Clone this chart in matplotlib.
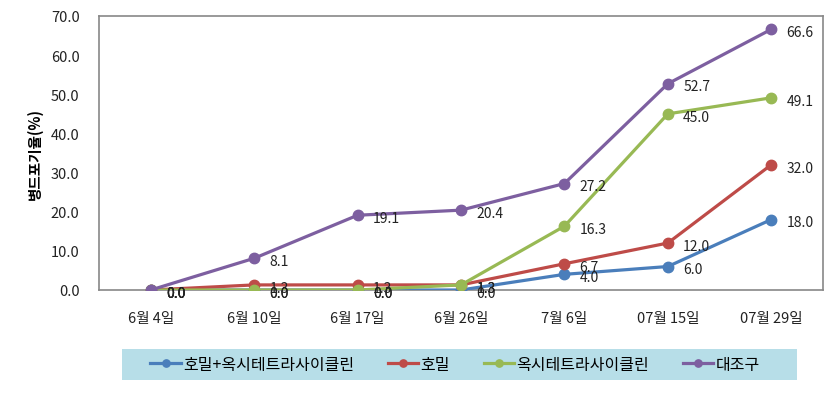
import matplotlib
matplotlib.use("Agg")
import matplotlib.pyplot as plt
from matplotlib.patches import Rectangle

plt.rcParams['font.family'] = ['Noto Sans CJK KR', 'DejaVu Sans']

categories = ["6월 4일", "6월 10일", "6월 17일", "6월 26일", "7월 6일", "07월 15일", "07월 29일"]
series_names = ["호밀+옥시테트라사이클린", "호밀", "옥시테트라사이클린", "대조구"]
s_rye_oxy = [0.0, 0.0, 0.0, 0.0, 4.0, 6.0, 18.0]
s_rye = [0.0, 1.3, 1.3, 1.3, 6.7, 12.0, 32.0]
s_oxy = [0.0, 0.0, 0.0, 1.3, 16.3, 45.0, 49.1]
s_ctrl = [0.0, 8.1, 19.1, 20.4, 27.2, 52.7, 66.6]
colors = ["#4A7EBB", "#BE4B48", "#98B954", "#7D5FA0"]
yticks = [0, 10, 20, 30, 40, 50, 60, 70]

fig = plt.figure(figsize=(8.35, 4.02), dpi=100)
ax = fig.add_axes([99/835, 1-291/402, 724/835, 274/402])

x = list(range(len(categories)))
all_series = [s_rye_oxy, s_rye, s_oxy, s_ctrl]
handles = []
for name, vals, c in zip(series_names, all_series, colors):
    h, = ax.plot(x, vals, color=c, lw=2.3, marker='o', ms=7.5, label=name, zorder=3)
    handles.append(h)
    for xi, v in zip(x, vals):
        ax.annotate(f"{v:.1f}", (xi, v), xytext=(11, -2), textcoords='offset points',
                    ha='left', va='center', fontsize=10, color='#222222', zorder=4)

ax.set_xlim(-0.5, 6.5)
ax.set_ylim(0, 70)
ax.set_yticks(yticks)
ax.set_yticklabels([f"{t:.1f}" for t in yticks], fontsize=10.5, color='#222222')
ax.set_xticks(x)
ax.set_xticklabels(categories, fontsize=10.5, color='#222222')
ax.tick_params(axis='x', length=0, pad=15)
ax.tick_params(axis='y', length=0, pad=14)
for sp in ax.spines.values():
    sp.set_color('#888888')
    sp.set_linewidth(1.2)
ax.set_ylabel("병드포기율(%)", fontsize=10.5, fontweight='bold', labelpad=6)

fig.patches.append(Rectangle((122/835, 1-381/402), 675/835, 31/402,
                             transform=fig.transFigure, facecolor='#B7DEE8',
                             edgecolor='none', zorder=0))
leg = fig.legend(handles=handles, labels=series_names, ncol=4, loc='center',
                 bbox_to_anchor=(455/835, 1-365.5/402),
                 frameon=False, fontsize=11.5, handlelength=1.9, handletextpad=0.15,
                 markerscale=0.7, columnspacing=2.1, borderaxespad=0)

fig.savefig("out.png", dpi=100)
